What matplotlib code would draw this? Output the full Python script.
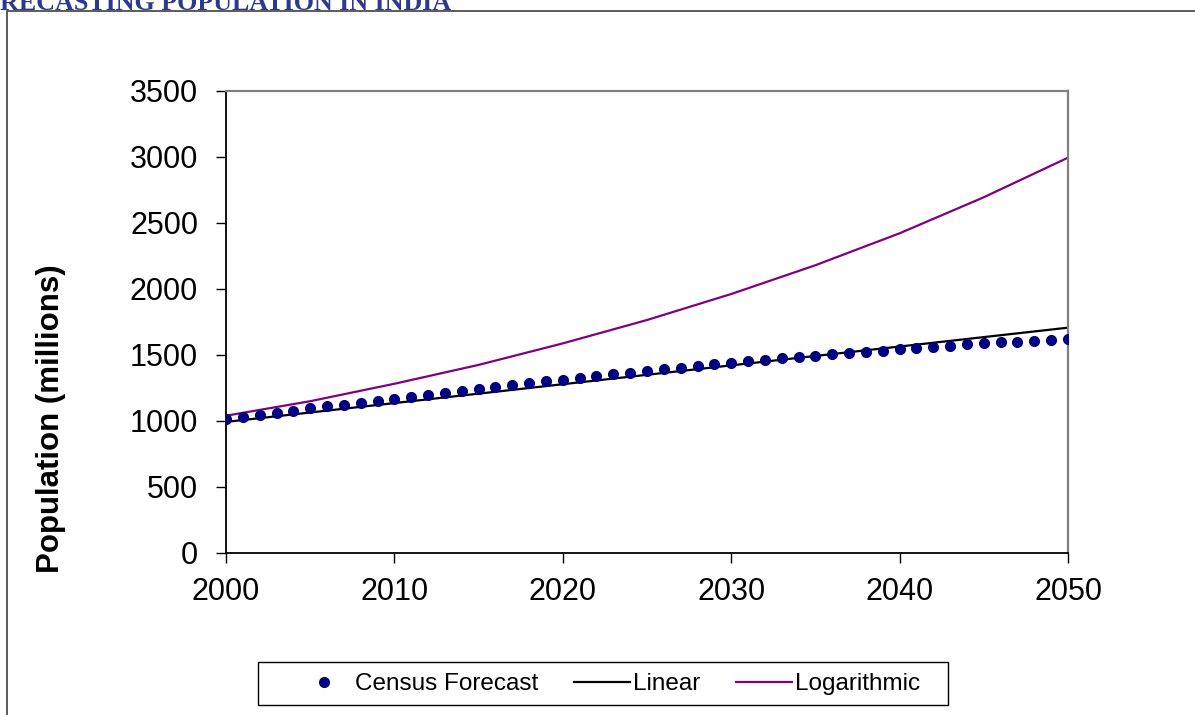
import matplotlib.pyplot as plt
from matplotlib.patches import Rectangle

# Données
annees = list(range(2000, 2051))
census = [1015, 1031, 1047, 1063, 1079, 1095, 1110, 1125, 1140, 1154,
          1168, 1183, 1198, 1213, 1228, 1244, 1258, 1272, 1286, 1300,
          1314, 1327, 1340, 1353, 1366, 1379, 1392, 1405, 1418, 1431,
          1443, 1454, 1465, 1476, 1486, 1496, 1506, 1516, 1525, 1534,
          1543, 1553, 1562, 1571, 1580, 1588, 1595, 1602, 1609, 1615,
          1621]
annees_lin = [2000, 2050]
lineaire = [993, 1707]
annees_log = [2000, 2005, 2010, 2015, 2020, 2025, 2030, 2035, 2040, 2045, 2050]
logarithmique = [1040, 1150, 1282, 1425, 1588, 1765, 1962, 2180, 2422, 2695, 2995]

x_ticks = [2000, 2010, 2020, 2030, 2040, 2050]
y_ticks = [0, 500, 1000, 1500, 2000, 2500, 3000, 3500]

plt.rcParams['font.family'] = ['Liberation Sans', 'DejaVu Sans']

fig = plt.figure(figsize=(11.95, 7.15), dpi=100)
W, H = 1195, 715

# cadre extérieur
fig.patches.append(Rectangle((7 / W, -0.1), 1.2, 1 - 11 / H + 0.1, transform=fig.transFigure,
                             fill=False, edgecolor='#404040', linewidth=1.2))

# titre coupé en haut (comme dans l'original)
fig.text(0, 1 - 10 / H, "RECASTING POPULATION IN INDIA", fontsize=18.7, fontweight='bold',
         family='Liberation Serif', color='#2E3A87', va='baseline', ha='left')

ax = fig.add_axes([226 / W, 1 - 553 / H, (1068 - 226) / W, (553 - 91) / H])

ax.plot(annees, census, 'o', color='#000080', markersize=7, label='Census Forecast', zorder=3)
ax.plot(annees_lin, lineaire, '-', color='black', linewidth=1.6, label='Linear', zorder=2)
ax.plot(annees_log, logarithmique, '-', color='#800080', linewidth=1.6, label='Logarithmic', zorder=2)

ax.set_xlim(2000, 2050)
ax.set_ylim(0, 3500)
ax.set_xticks(x_ticks)
ax.set_yticks(y_ticks)
ax.tick_params(labelsize=22, length=7, color='black', width=1.0)
ax.tick_params(axis='x', pad=10)
ax.tick_params(axis='y', pad=13)

for s in ['top', 'right']:
    ax.spines[s].set_color('#808080')
    ax.spines[s].set_linewidth(1.6)
for s in ['left', 'bottom']:
    ax.spines[s].set_color('black')
    ax.spines[s].set_linewidth(1.3)

fig.text(51 / W, 1 - 419 / H, "Population (millions)", rotation=90, fontsize=22.5,
         fontweight='bold', ha='center', va='center')

# cadre de la légende
fig.patches.append(Rectangle((258 / W, 1 - 705 / H), 690 / W, 43 / H, transform=fig.transFigure,
                             fill=False, edgecolor='black', linewidth=1.0))
fig.legend(loc='center', bbox_to_anchor=(608 / W, 1 - 684 / H), ncol=3,
           fontsize=17.5, frameon=False,
           handlelength=2.3, columnspacing=1.5, handletextpad=0.1,
           borderpad=0, borderaxespad=0)

plt.savefig("out.png", dpi=100)
plt.close()
